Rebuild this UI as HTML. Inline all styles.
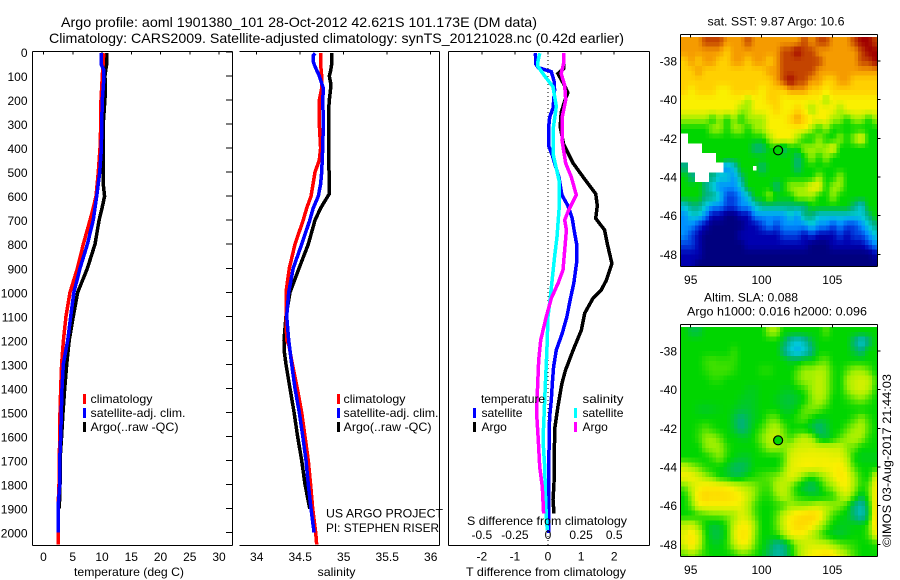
<!DOCTYPE html>
<html lang="en">
<head>
<meta charset="utf-8">
<title>Argo profile 1901380_101</title>
<style>
html,body{margin:0;padding:0;background:#fff;width:900px;height:580px;overflow:hidden}
svg{display:block}
text{font-family:"Liberation Sans",sans-serif;font-size:12px;fill:#000}
.big{font-size:14px}
</style>
</head>
<body>
<svg id="chart" xmlns="http://www.w3.org/2000/svg" width="900" height="580" viewBox="0 0 900 580">
  <defs>
    <clipPath id="clip-sst"><rect x="681" y="37" width="196.5" height="229.7"/></clipPath>
    <clipPath id="clip-sla"><rect x="681" y="327" width="196.5" height="229.7"/></clipPath>
    <clipPath id="clip-temp"><rect x="33" y="52" width="199" height="493"/></clipPath>
    <clipPath id="clip-sal"><rect x="240" y="52" width="199" height="493"/></clipPath>
    <clipPath id="clip-diff"><rect x="449" y="52" width="200" height="493"/></clipPath>
  </defs>
  <text class="big" x="61" y="27" textLength="476" lengthAdjust="spacingAndGlyphs">Argo profile: aoml 1901380_101 28-Oct-2012 42.621S 101.173E (DM data)</text>
  <text class="big" x="49" y="43" textLength="575" lengthAdjust="spacingAndGlyphs">Climatology: CARS2009. Satellite-adjusted climatology: synTS_20121028.nc (0.42d earlier)</text>

  <g id="heat-sst" clip-path="url(#clip-sst)" shape-rendering="crispEdges"></g>
  <g id="heat-sla" clip-path="url(#clip-sla)" shape-rendering="crispEdges"></g>
  <g id="axes" shape-rendering="crispEdges"></g>
  <g id="series-temp" clip-path="url(#clip-temp)" shape-rendering="crispEdges"></g>
  <g id="series-sal" clip-path="url(#clip-sal)" shape-rendering="crispEdges"></g>
  <g id="series-diff" clip-path="url(#clip-diff)" shape-rendering="crispEdges"></g>
  <g id="labels"></g>

  <!-- temperature legend -->
  <rect x="83" y="394" width="3" height="10" fill="#ff0000"/>
  <rect x="83" y="408" width="3" height="10" fill="#0000ff"/>
  <rect x="83" y="422" width="3" height="10" fill="#000"/>
  <text x="90.5" y="403" textLength="62" lengthAdjust="spacingAndGlyphs">climatology</text>
  <text x="90.5" y="417" textLength="95" lengthAdjust="spacingAndGlyphs">satellite-adj. clim.</text>
  <text x="90.5" y="431" textLength="88" lengthAdjust="spacingAndGlyphs">Argo(..raw -QC)</text>

  <!-- salinity legend -->
  <rect x="337" y="394" width="3" height="10" fill="#ff0000"/>
  <rect x="337" y="408" width="3" height="10" fill="#0000ff"/>
  <rect x="337" y="422" width="3" height="10" fill="#000"/>
  <text x="343.5" y="403" textLength="62" lengthAdjust="spacingAndGlyphs">climatology</text>
  <text x="343.5" y="417" textLength="95" lengthAdjust="spacingAndGlyphs">satellite-adj. clim.</text>
  <text x="343.5" y="431" textLength="88" lengthAdjust="spacingAndGlyphs">Argo(..raw -QC)</text>
  <text x="326" y="517.5" textLength="117" lengthAdjust="spacingAndGlyphs">US ARGO PROJECT</text>
  <text x="326" y="532" textLength="113" lengthAdjust="spacingAndGlyphs">PI: STEPHEN RISER</text>

  <!-- difference legend -->
  <text x="481" y="403" textLength="64" lengthAdjust="spacingAndGlyphs">temperature</text>
  <text x="582.5" y="403" textLength="41" lengthAdjust="spacingAndGlyphs">salinity</text>
  <rect x="473" y="408" width="3" height="10" fill="#0000ff"/>
  <rect x="473" y="422" width="3" height="10" fill="#000"/>
  <rect x="574" y="408" width="3" height="10" fill="#00ffff"/>
  <rect x="574" y="422" width="3" height="10" fill="#ff00ff"/>
  <text x="481.5" y="417" textLength="41" lengthAdjust="spacingAndGlyphs">satellite</text>
  <text x="481.5" y="431">Argo</text>
  <text x="582.5" y="417" textLength="41" lengthAdjust="spacingAndGlyphs">satellite</text>
  <text x="582.5" y="431">Argo</text>

  <text x="467" y="525" textLength="160" lengthAdjust="spacingAndGlyphs">S difference from climatology</text>
  <text x="466" y="576" textLength="160" lengthAdjust="spacingAndGlyphs">T difference from climatology</text>
  <text x="74" y="576" textLength="110" lengthAdjust="spacingAndGlyphs">temperature (deg C)</text>
  <text x="317.5" y="576" textLength="38" lengthAdjust="spacingAndGlyphs">salinity</text>

  <text x="707.5" y="25.5" textLength="137" lengthAdjust="spacingAndGlyphs">sat. SST: 9.87 Argo: 10.6</text>
  <text x="704" y="301.5" textLength="94" lengthAdjust="spacingAndGlyphs">Altim. SLA: 0.088</text>
  <text x="687" y="315.5" textLength="180" lengthAdjust="spacingAndGlyphs">Argo h1000: 0.016 h2000: 0.096</text>
  <text transform="translate(891,547) rotate(-90)" textLength="173" lengthAdjust="spacingAndGlyphs">©IMOS 03-Aug-2017 21:44:03</text>
</svg>

<script>
// ---------- chart data ----------
const depthTicks = [0,100,200,300,400,500,600,700,800,900,1000,1100,1200,1300,1400,1500,1600,1700,1800,1900,2000];
const tempTicks = [0,5,10,15,20,25,30];
const salTicks = [34,34.5,35,35.5,36];
const salTickLabels = ['34','34.5','35','35.5','36'];
const tDiffTicks = [-2,-1,0,1,2];
const sDiffTickLabels = ['-0.5','-0.25','0','0.25','0.5'];
const lonTicks = [95,100,105];
const latTicks = [-38,-40,-42,-44,-46,-48];

const tempDepthClim = [5,100,200,300,400,500,600,650,700,800,900,1000,1100,1200,1300,1400,1500,1600,1700,1800,1900,2000,2050];
const tempClim = [10.3,10.05,9.83,9.8,9.66,9.37,8.97,8.5,7.95,6.8,5.8,4.53,3.85,3.4,3.1,2.94,2.82,2.77,2.7,2.65,2.48,2.48,2.48];
const tempDepthSat = [5,50,75,100,150,200,300,400,500,600,650,700,800,900,1000,1100,1200,1300,1400,1500,1600,1700,1800,1900,2000];
const tempSat = [9.83,9.83,10.3,10.35,10.2,10.05,9.95,9.9,9.6,9.1,8.8,8.5,7.5,6.24,5.2,4.65,4.13,3.39,3.16,3.05,2.94,2.77,2.77,2.48,2.48];
const tempDepthArgo = [5,50,100,150,200,300,400,500,560,600,650,700,800,900,1000,1100,1200,1300,1400,1500,1600,1700,1800,1900];
const tempArgo = [10.8,10.8,10.5,10.6,10.5,10.2,10.2,10.2,10.25,10.45,10,9.5,8.8,7.5,5.85,5.1,4.4,3.96,3.62,3.33,3.1,2.82,2.82,2.7];

const salDepthClim = [5,50,100,150,200,300,400,450,500,600,650,700,800,900,1000,1100,1200,1220,1300,1400,1500,1600,1700,1800,1900,2000,2050];
const salClim = [34.735,34.735,34.747,34.747,34.72,34.72,34.735,34.72,34.67,34.624,34.575,34.535,34.44,34.375,34.337,34.337,34.345,34.37,34.41,34.467,34.517,34.555,34.593,34.62,34.644,34.678,34.69];
const salDepthSat = [5,15,40,60,100,150,200,300,400,500,550,600,650,700,800,900,1000,1100,1200,1300,1400,1500,1600,1700,1800,1900,2000];
const salSat = [34.67,34.65,34.65,34.67,34.72,34.766,34.76,34.766,34.759,34.747,34.735,34.708,34.65,34.61,34.517,34.42,34.368,34.345,34.368,34.402,34.44,34.49,34.53,34.567,34.593,34.624,34.66];
const salDepthArgo = [5,50,75,100,130,150,200,250,300,400,480,500,590,650,700,800,900,1000,1100,1200,1250,1300,1400,1500,1600,1700,1800,1900];
const salArgo = [34.862,34.862,34.852,34.835,34.85,34.85,34.835,34.825,34.825,34.825,34.825,34.835,34.835,34.735,34.67,34.593,34.486,34.383,34.337,34.314,34.318,34.337,34.383,34.43,34.47,34.517,34.555,34.61];

const tSatDepth = [5,50,65,82,120,158,234,270,311,394,430,463,520,595,640,692,741,796,880,962,1025,1101,1171,1240,1310,1379,1448,1517,1587,1656,1726,1795,1864,1920,2002];
const tSatDiff = [-.38,-.37,-.30,.10,.18,.20,.15,.05,.02,.03,.13,.20,.33,.42,.60,.73,.79,.86,.86,.78,.68,.57,.43,.25,.17,.13,.10,.05,.03,.03,.02,.02,.02,.02,.03];
const tArgoDepth = [5,70,90,139,170,195,250,311,383,463,520,590,640,692,741,796,880,950,990,1025,1087,1157,1240,1324,1379,1476,1560,1656,1795,1864,1920];
const tArgoDiff = [.47,.47,.30,.50,.60,.53,.40,.37,.47,.76,1.06,1.44,1.49,1.44,1.71,1.79,1.93,1.76,1.61,1.36,1.11,1.01,.76,.53,.42,.30,.21,.19,.18,.15,.18];
const sSatDepth = [5,40,60,100,145,227,325,423,534,657,769,852,1018,1101,1240,1379,1517,1615,1726,1837,1934,1990];
const sSatDiff = [-.063,-.076,-.076,-.025,.038,.063,.038,.038,.083,.083,.068,.05,.018,0,-.008,-.02,-.03,-.038,-.025,-.02,-.013,-.005];
const sArgoDepth = [5,48,90,139,200,270,367,463,520,595,664,699,741,824,907,962,1025,1101,1199,1282,1379,1503,1615,1726,1809,1920];
const sArgoDiff = [.121,.118,.10,.126,.134,.108,.106,.134,.176,.214,.151,.126,.139,.126,.113,.076,.025,-.013,-.055,-.07,-.078,-.086,-.073,-.063,-.043,-.033];

const profileLon = 101.173;
const profileLat = -42.621;
const markerLevel = 6;

// colour-level grids, one row per half degree of latitude (-1 = no data)
const sstRows = [
[10,10,10,11,11,11,10,10,10,11,10,10,10,10,10,10,10,11,10,11,11,10,10,10,11,12,12,11],
[10,10,10,10,10,10,9,10,10,10,10,10,10,10,11,11,12,11,11,10,10,10,10,10,10,11,12,12],
[9,10,9,10,10,9,9,10,10,9,10,10,9,10,11,11,11,11,11,11,10,10,10,10,10,11,11,12],
[9,9,10,9,9,9,9,9,9,9,9,9,10,10,11,11,11,11,11,10,10,10,10,10,10,10,10,10],
[9,9,9,9,9,9,9,9,9,9,9,9,9,10,11,12,11,11,10,10,9,9,10,10,9,9,9,9],
[9,8,9,9,9,8,8,9,9,9,9,8,9,9,9,10,10,10,9,9,8,9,9,9,9,9,9,9],
[8,8,8,8,8,8,8,8,8,7,8,8,9,9,8,8,8,8,8,8,7,8,8,8,8,8,8,8],
[8,8,8,8,8,8,8,8,7,7,8,8,8,9,8,8,9,8,7,8,8,8,7,8,8,8,8,8],
[7,7,7,7,6,7,6,7,6,7,7,7,8,8,8,9,10,9,8,8,8,7,7,6,7,7,6,7],
[6,6,6,6,7,7,6,7,7,6,7,7,8,8,8,8,8,8,7,6,7,6,6,6,6,6,6,6],
[-1,6,6,6,6,6,6,6,6,6,6,6,7,8,8,8,7,6,6,7,6,6,7,6,7,8,6,6],
[-1,-1,-1,6,6,6,6,6,6,6,5,5,6,6,5,6,6,7,7,7,7,8,6,6,6,6,6,6],
[-1,-1,-1,-1,-1,6,6,6,6,6,6,6,6,6,6,6,5,6,7,6,7,6,6,6,6,6,6,6],
[5,-1,-1,-1,-1,-1,3,4,6,6,6,5,6,6,6,6,5,6,6,6,6,6,6,6,6,6,6,6],
[6,5,-1,-1,5,4,4,3,5,6,6,6,6,6,6,6,6,6,6,7,6,6,7,6,6,6,6,6],
[6,6,6,5,4,3,3,3,4,6,6,6,6,5,6,7,7,7,8,8,6,7,7,6,6,6,6,6],
[6,6,6,5,5,4,2,2,3,4,6,6,7,6,6,6,7,7,7,6,6,7,6,6,6,6,6,6],
[4,5,5,4,3,3,2,2,3,3,4,5,5,5,5,5,5,5,6,6,6,6,6,6,5,4,6,6],
[3,4,4,3,1,1,0,0,1,1,3,3,3,3,3,4,3,5,5,4,4,4,4,4,4,4,5,6],
[3,3,2,1,0,0,0,0,0,1,1,2,3,2,3,3,3,3,4,3,3,2,3,2,2,3,4,5],
[3,2,1,0,0,0,0,0,1,1,1,1,1,1,2,2,2,1,2,1,1,1,2,1,2,2,3,4],
[2,2,1,0,0,0,0,0,0,1,1,1,1,1,1,1,1,1,0,0,0,1,1,1,1,1,2,3],
[1,1,1,0,0,0,0,0,0,0,0,0,0,0,0,0,0,0,0,0,0,0,0,0,0,0,0,1],
[1,1,0,0,0,0,0,0,0,0,0,0,0,0,0,0,0,0,0,0,0,0,0,0,0,0,0,0]
];
const slaRows = [
[6,5.5,5.5,6,6,6,6,6,6,6,6,6,7,7,6,6,6,6,6,6,6.5,6,6,6,6,6,6,6],
[6,6,6,6,6,6,6,6,6,6,6,6,6,6,5.5,4.5,4,4.5,5.5,6,6,6,6,6,5,4,5,6],
[6,6,6,6,6,6,6,6.3,6,6,6,6,6,6,5,4,3.5,4,5,6,6,6,6,6,5.5,5,6,6],
[6,6,6,6.3,6.4,6.3,6.3,6.3,6,6,6,6,6,6,6,5.7,5.7,6,6,6.4,6.6,6,6,6,6,6,6,6],
[6,6,6,6.2,6.4,6.4,6.4,6.2,6,6,6,6.2,6.2,6,6,6,6.5,7,7,7.2,7,6.2,6,6.5,7,7,6.6,6],
[6,6,6,6,6.2,6.2,6,6,6,6,6,6,6,6,6,6,6.6,7,7,7.4,7,6.2,6,7,7.4,7.6,7.4,6.4],
[6,6,6,6,6,6,6,6,6,5.8,5.8,6,6,6,5.8,5.8,6,6.3,7,7.4,7,6.2,6,6.8,7.4,7.6,7.2,6.2],
[6,6,6,6,6,6,6,6,5.8,5.7,5.8,6,6,5.8,5.6,5.5,5.7,6,6.8,7.2,6.8,6,6,6.2,6.6,6.8,6.4,6],
[6,6,5.8,5.7,5.8,5.9,6,5.8,5.6,5.6,5.8,6,6,6,5.7,5.7,6,6.6,6.8,6.6,6.2,6,6,6,6,6,6,6],
[6,6,6,6,6,6,6,5.5,5,5.4,5.8,6,6.6,6.6,6,6,6.3,6.5,6,5.7,5.8,6,6,6,6.4,6.9,6.3,6],
[6,6,6.2,6.5,6.2,6,6,5.6,5,5.4,6,6.4,7,7.2,6.6,6,6,5.9,5.5,5,5.5,6,6,6.5,7,7.2,6.5,6],
[6,6,6.3,6.9,7,6.6,6,6,5.8,5.8,6.2,6.8,7.3,7.4,6.8,6.4,7,7.4,7,5.8,5.5,6,6.5,7,7.2,7,6.2,6],
[6,6,6,6.8,7,7,6.3,6,6,6,6,6.4,7,7,6.8,7.2,7.6,7.6,7.7,7.6,7.6,7.5,7.5,6.8,6.6,6,6,6],
[6,6,6,6,6.4,6.8,6.2,5.9,5.7,5.7,6,6,6,6,6.4,7.6,7.8,7.9,7.9,7.9,7.9,7.8,7.8,7.2,6,5.8,5.8,5.8],
[7.4,7,6.6,6.2,6,6,5.7,5.3,5.2,5.5,6,6,6,6,6.6,7.7,7.9,8,8,7.9,8,8,8.2,7.6,6.4,6,6,6],
[8,8,7.6,7,6.6,6,5.8,5.5,5.6,6,6.2,6.4,6.6,6.8,7.2,7.8,7.4,6.6,6.2,6.6,7.2,7.8,8.3,8,7,6.2,6,7.6],
[6.6,7.4,7.9,8.2,8.2,8.2,8,7.7,7.4,7.1,6.8,6.4,6.4,7.2,7.4,6.8,6,5.5,5.2,5.8,6.6,7,7.8,8,7,6.2,6.5,8.1],
[6,7,8.3,8.9,8.6,8.7,8.6,8.4,8,7.5,6.8,6.2,6.2,6.8,7.3,6.8,6.2,6,5.8,5.8,6,6.2,7,7.5,6.4,5.5,6.4,8.2],
[6,6.6,7.8,8,8,8,8,7.9,7.8,7.2,6.4,6,6,6.2,6.4,7,7,7,7.2,7.4,7.2,7,6.8,6.2,5,4.4,5.8,8.4],
[6,6,6.2,6.4,6.6,6.6,6.8,7,7.7,7.3,6.5,6,6,6.5,7.4,8,8.4,8.7,8.9,8.4,7.2,6.4,6,5.8,5,4.3,5.6,8.6],
[7.3,7.5,6.8,6,5.6,5.7,6.3,7.4,8,8,7,6,6,6.6,7.5,8.2,8.8,8.7,8.2,7.4,6.6,6,5.8,5.8,5.9,5.9,6.4,8.6],
[7.8,8.3,7.6,6.2,5.5,5.5,6.2,7.6,8.4,8.2,6.8,6,6,6.2,7,7.8,8,7.8,7.2,6.6,6,5.7,5.6,5.8,6,6,6.4,7.8],
[7.6,8.4,7.5,6.2,5.8,5.8,6.3,7.2,8,7.8,6.6,6,5.5,4.8,5,6,7,7.4,7.6,7.5,7.4,7,6.6,6.4,6.2,6,6,6.2],
[6.6,7,6.6,6.2,6,6,6,6.2,6.6,6.5,6.2,5.8,5.2,4.6,4.8,5.8,6.8,7.6,8,8.2,8.5,8.2,7.6,7,6.4,6,6,6]
];

// ---------- colour scale ----------
const levelColors = [[0,0,127],[0,0,176],[0,64,224],[0,144,255],[0,200,216],[0,176,128],[0,214,0],[160,240,0],[250,240,0],[255,208,0],[245,155,0],[196,68,0],[160,0,0]];
function colorFor(v){
  const c = Math.max(0, Math.min(levelColors.length - 1.001, v));
  const i = Math.floor(c), f = c - i, a = levelColors[i], b = levelColors[i + 1];
  return 'rgb(' + [0,1,2].map(k => Math.round(a[k] + (b[k] - a[k]) * f)).join(',') + ')';
}

// ---------- axis functions ----------
const NS = 'http://www.w3.org/2000/svg';
const yDepth = d => 52 + 0.2403 * d;
const xTemp = t => 43.5 + 5.85 * t;
const xSal = s => 256.7 + 87 * (s - 34);
const xTDiff = t => 548 + 33.1 * t;
const xSDiff = s => 548 + 132.4 * s;
const xLon = lon => 690.7 + 14.16 * (lon - 95);
const ySst = lat => 61 + 19.33 * (-38 - lat);
const ySla = lat => 351 + 19.33 * (-38 - lat);

function make(parent, tag, attrs, txt){
  const el = document.createElementNS(NS, tag);
  for (const k in attrs) el.setAttribute(k, attrs[k]);
  if (txt !== undefined) el.textContent = txt;
  parent.appendChild(el);
  return el;
}
const axes = document.getElementById('axes');
const labels = document.getElementById('labels');

function axisLine(x1, y1, x2, y2, name, w){
  const el = make(axes, 'line', {x1:x1, y1:y1, x2:x2, y2:y2, stroke:'#000', 'stroke-width':w || 1});
  
  
}
function tickText(x, y, str, anchor, name){
  const el = make(labels, 'text', {x:x, y:y, 'text-anchor':anchor}, str);
  
  
}
function drawSeries(groupId, xFn, depths, values, color, name){
  const pts = depths.map((d, i) => xFn(values[i]).toFixed(1) + ',' + yDepth(d).toFixed(1)).join(' ');
  const el = make(document.getElementById(groupId), 'polyline', {points:pts, fill:'none', stroke:color, 'stroke-width':3.5});
  
  
}

// ---------- profile panels ----------
const panels = [[32.5,232.5,'temperature'],[239.5,439.5,'salinity'],[448.5,649.5,'difference']];
panels.forEach(p => {
  axisLine(p[0], 51.5, p[1], 51.5, p[2] + '-panel-top');
  axisLine(p[0], 545.5, p[1], 545.5, p[2] + '-panel-bottom');
  axisLine(p[1], 51.5, p[1], 545.5, p[2] + '-panel-right');
});
axisLine(32.5, 51.5, 32.5, 545.5, 'temperature-panel-left');
axisLine(448.5, 51.5, 448.5, 545.5, 'difference-panel-left');

depthTicks.forEach(d => {
  axisLine(226, yDepth(d), 232.5, yDepth(d), 'depth-tick');
  tickText(27.5, yDepth(d) + 5, String(d), 'end', 'depth-tick-label');
});
tempTicks.forEach(t => {
  axisLine(xTemp(t), 51.5, xTemp(t), 54.5, 'temperature-tick');
  tickText(xTemp(t), 561, String(t), 'middle', 'temperature-tick-label');
});
salTicks.forEach((s, i) => {
  axisLine(xSal(s), 51.5, xSal(s), 54.5, 'salinity-tick');
  tickText(xSal(s), 561, salTickLabels[i], 'middle', 'salinity-tick-label');
});
tDiffTicks.forEach((t, i) => {
  axisLine(xTDiff(t), 51.5, xTDiff(t), 54.5, 't-difference-tick');
  tickText(xTDiff(t), 560.5, String(t), 'middle', 't-difference-tick-label');
  tickText(xTDiff(t), 539, sDiffTickLabels[i], 'middle', 's-difference-tick-label');
});
const zeroLine = make(axes, 'line', {x1:xTDiff(0), y1:52, x2:xTDiff(0), y2:545, stroke:'#000', 'stroke-width':1, 'stroke-dasharray':'1 3'});



drawSeries('series-temp', xTemp, tempDepthArgo, tempArgo, '#000', 'temperature-argo-line');
drawSeries('series-temp', xTemp, tempDepthClim, tempClim, '#ff0000', 'temperature-climatology-line');
drawSeries('series-temp', xTemp, tempDepthSat, tempSat, '#0000ff', 'temperature-satellite-line');
drawSeries('series-sal', xSal, salDepthArgo, salArgo, '#000', 'salinity-argo-line');
drawSeries('series-sal', xSal, salDepthClim, salClim, '#ff0000', 'salinity-climatology-line');
drawSeries('series-sal', xSal, salDepthSat, salSat, '#0000ff', 'salinity-satellite-line');
drawSeries('series-diff', xTDiff, tArgoDepth, tArgoDiff, '#000', 't-difference-argo-line');
drawSeries('series-diff', xTDiff, tSatDepth, tSatDiff, '#0000ff', 't-difference-satellite-line');
drawSeries('series-diff', xSDiff, sSatDepth, sSatDiff, '#00ffff', 's-difference-satellite-line');
drawSeries('series-diff', xSDiff, sArgoDepth, sArgoDiff, '#ff00ff', 's-difference-argo-line');

// ---------- maps ----------
const lonStart = 94.3, latStart = -36.76, cellDeg = 0.5, sub = 2;
function drawHeat(groupId, rows, yFn, name){
  const g = document.getElementById(groupId);
  const nR = rows.length, nC = rows[0].length;
  const val = (r, c) => rows[Math.max(0, Math.min(nR - 1, r))][Math.max(0, Math.min(nC - 1, c))];
  for (let r = 0; r < nR * sub; r++) {
    for (let c = 0; c < nC * sub; c++) {
      const near = rows[Math.floor(r / sub)][Math.floor(c / sub)];
      const fr = (r + 0.5) / sub - 0.5, fc = (c + 0.5) / sub - 0.5;
      const r0 = Math.floor(fr), c0 = Math.floor(fc), tr = fr - r0, tc = fc - c0;
      const corners = [val(r0, c0), val(r0, c0 + 1), val(r0 + 1, c0), val(r0 + 1, c0 + 1)];
      let fill = '#fff';
      if (near >= 0) {
        const safe = corners.map(v => v < 0 ? near : v);
        const v = (safe[0] * (1 - tc) + safe[1] * tc) * (1 - tr) + (safe[2] * (1 - tc) + safe[3] * tc) * tr;
        fill = colorFor(v);
      }
      const lon = lonStart + c * cellDeg / sub, lat = latStart - r * cellDeg / sub;
      const x = xLon(lon), y = yFn(lat);
      const w = xLon(lon + cellDeg / sub) - x + 0.6, h = yFn(lat - cellDeg / sub) - y + 0.6;
      const el = make(g, 'rect', {x:x.toFixed(2), y:y.toFixed(2), width:w.toFixed(2), height:h.toFixed(2), fill:fill});
      
      
    }
  }
}
drawHeat('heat-sst', sstRows, ySst, 'sst-cell');
drawHeat('heat-sla', slaRows, ySla, 'sla-cell');

const missingCell = make(document.getElementById('heat-sst'), 'rect', {x:xLon(99.4), y:ySst(-43.42), width:3.5, height:4.5, fill:'#fff'});



function drawMapFrame(top, bottom, yFn, name, labelY){
  axisLine(680.5, top, 877.5, top, name + '-top');
  axisLine(680.5, bottom, 877.5, bottom, name + '-bottom');
  axisLine(680.5, top, 680.5, bottom, name + '-left');
  axisLine(877.5, top, 877.5, bottom, name + '-right');
  lonTicks.forEach(lon => {
    axisLine(xLon(lon), top, xLon(lon), top + 3, name + '-lon-tick');
    tickText(xLon(lon), labelY, String(lon), 'middle', name + '-lon-label');
  });
  latTicks.forEach(lat => {
    axisLine(877.5, yFn(lat), 880.5, yFn(lat), name + '-lat-tick');
    tickText(677, yFn(lat) + 4.5, String(lat), 'end', name + '-lat-label');
  });
  const m = make(document.getElementById('axes'), 'circle', {cx:xLon(profileLon), cy:yFn(profileLat), r:4.5, fill:colorFor(markerLevel), stroke:'#000', 'stroke-width':1.2, 'shape-rendering':'auto'});
  
  
}
drawMapFrame(34.5, 266.5, ySst, 'sst-map-frame', 284);
drawMapFrame(324.5, 556.5, ySla, 'sla-map-frame', 574);
</script>
</body>
</html>
